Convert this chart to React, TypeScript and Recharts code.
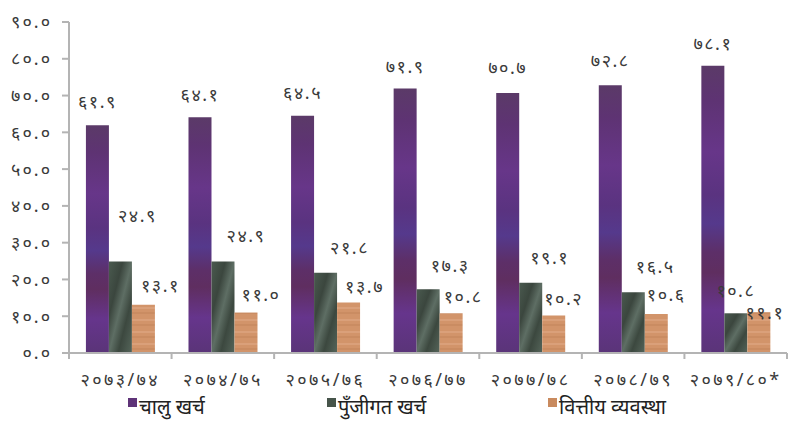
import React from 'react';
import { BarChart, Bar, XAxis, YAxis, Legend, LabelList } from 'recharts';

// ---------- data ----------
const categories = ['२०७३/७४', '२०७४/७५', '२०७५/७६', '२०७६/७७', '२०७७/७८', '२०७८/७९', '२०७९/८०*'];
const currentExp = [61.9, 64.1, 64.5, 71.9, 70.7, 72.8, 78.1];
const capitalExp = [24.9, 24.9, 21.8, 17.3, 19.1, 16.5, 10.8];
const financing = [13.1, 11.0, 13.7, 10.8, 10.2, 10.6, 11.1];
const yTicks = [0, 10, 20, 30, 40, 50, 60, 70, 80, 90];
const seriesNames = ['चालु खर्च', 'पुँजीगत खर्च', 'वित्तीय व्यवस्था'];

// label nudges (layout only), [dx, dy] relative to top-centre of bar
const nudgeCurrent = [[0, -24], [0, -23], [0, -24], [0, -23], [0, -26], [0, -25], [0, -23]];
const nudgeCapital = [[17, -46], [23, -26], [24, -26], [22, -24], [19, -26], [22, -26], [0, -23]];
const nudgeFinancing = [[17, -20], [15, -19], [16, -17], [12, -17], [10, -17], [10, -20], [6, 0]];

const data = categories.map((c, i) => ({
  name: c,
  current: currentExp[i],
  capital: capitalExp[i],
  financing: financing[i],
}));

const DEVA = ['०', '१', '२', '३', '४', '५', '६', '७', '८', '९'];
const toDeva = (s: string) => s.replace(/[0-9]/g, (d) => DEVA[Number(d)]);
const fmt = (v: number) => toDeva(v.toFixed(1));

const W = 788;
const H = 424;
const Y_W = 69;
const M_RIGHT = 1;
const BAND = (W - Y_W - M_RIGHT) / categories.length;
const FONT = "'Noto Sans', 'DejaVu Sans', sans-serif";
const TEXT = '#3a3a3a';
const AXIS = '#b4b4b4';

const makeLabel = (nudges: number[][]) => (props: any) => {
  const { x, y, width, value, index } = props;
  const [dx, dy] = nudges[index] || [0, -20];
  return (
    <text
      x={Number(x) + Number(width) / 2 + dx}
      y={Number(y) + dy}
      textAnchor="middle"
      dominantBaseline="central"
      fontSize={18}
      letterSpacing={1.5}
      fontFamily={FONT}
      fill={TEXT}
    >
      {fmt(Number(value))}
    </text>
  );
};

const XTick = (props: any) => {
  const { x, y, payload, index } = props;
  const left = x - BAND / 2;
  return (
    <g>
      <line x1={left} y1={y} x2={left} y2={y + 6} stroke={AXIS} strokeWidth={2} />
      {index === categories.length - 1 && (
        <line x1={x + BAND / 2} y1={y} x2={x + BAND / 2} y2={y + 6} stroke={AXIS} strokeWidth={2} />
      )}
      <text x={x} y={y + 33} textAnchor="middle" fontSize={18} letterSpacing={2.4} fontFamily={FONT} fill={TEXT}>
        {toDeva(payload.value)}
      </text>
    </g>
  );
};

const legendColors = ['#5e3378', '#46544a', '#c98a5e'];
const legendLeft = [128, 327, 548];

const LegendContent = () => (
  <div style={{ position: 'relative', width: W, height: 31 }}>
    {seriesNames.map((n, i) => (
      <div
        key={n}
        style={{
          position: 'absolute',
          left: legendLeft[i],
          top: 0,
          display: 'flex',
          alignItems: 'center',
          fontFamily: FONT,
          fontSize: 20,
          color: '#222',
          whiteSpace: 'nowrap',
        }}
      >
        <span style={{ display: 'inline-block', width: 9, height: 9, background: legendColors[i], marginRight: 2, marginTop: -8 }} />
        {n}
      </div>
    ))}
  </div>
);

export default function App() {
  return (
    <div style={{ position: 'absolute', left: 0, top: 0, width: W, height: H, background: '#fff' }}>
      <BarChart
        width={W}
        height={H}
        data={data}
        margin={{ top: 22, right: M_RIGHT, left: 0, bottom: 0 }}
        barCategoryGap="16.5%"
        barGap={0}
      >
        <defs>
          <linearGradient id="gPurple" x1="0" y1="0" x2="0" y2="1">
            <stop offset="0" stopColor="#5b3a68" />
            <stop offset="0.12" stopColor="#5e3373" />
            <stop offset="0.3" stopColor="#673689" />
            <stop offset="0.45" stopColor="#5a3380" />
            <stop offset="0.55" stopColor="#55398c" />
            <stop offset="0.65" stopColor="#5d2f68" />
            <stop offset="0.72" stopColor="#5f2e60" />
            <stop offset="0.85" stopColor="#66358c" />
            <stop offset="1" stopColor="#5a3478" />
          </linearGradient>
          <linearGradient id="gGreen" x1="0" y1="0" x2="1" y2="1">
            <stop offset="0" stopColor="#4a5a4f" />
            <stop offset="0.3" stopColor="#3b463e" />
            <stop offset="0.5" stopColor="#5e6e64" />
            <stop offset="0.7" stopColor="#3c483f" />
            <stop offset="1" stopColor="#55655a" />
          </linearGradient>
          <pattern id="pTan" width="24" height="12" patternUnits="userSpaceOnUse">
            <rect width="24" height="12" fill="#d2946a" />
            <rect y="0" width="24" height="2" fill="#ca8c62" />
            <rect y="7" width="24" height="2" fill="#daa07a" />
          </pattern>
        </defs>
        <XAxis
          dataKey="name"
          height={40}
          tickLine={false}
          tickSize={0}
          tickMargin={0}
          axisLine={{ stroke: AXIS, strokeWidth: 2 }}
          tick={<XTick />}
          interval={0}
        />
        <YAxis
          width={Y_W}
          domain={[0, 90]}
          ticks={yTicks}
          interval={0}
          tickSize={7}
          tickMargin={10}
          axisLine={{ stroke: AXIS, strokeWidth: 2 }}
          tickLine={{ stroke: AXIS, strokeWidth: 2 }}
          tick={{ fontSize: 18, fontFamily: FONT, fill: TEXT, letterSpacing: 2 }}
          tickFormatter={(v: number) => fmt(v)}
        />
        <Legend verticalAlign="bottom" height={31} content={<LegendContent />} />
        <Bar dataKey="current" name={seriesNames[0]} fill="url(#gPurple)" isAnimationActive={false}>
          <LabelList dataKey="current" content={makeLabel(nudgeCurrent)} />
        </Bar>
        <Bar dataKey="capital" name={seriesNames[1]} fill="url(#gGreen)" isAnimationActive={false}>
          <LabelList dataKey="capital" content={makeLabel(nudgeCapital)} />
        </Bar>
        <Bar dataKey="financing" name={seriesNames[2]} fill="url(#pTan)" isAnimationActive={false}>
          <LabelList dataKey="financing" content={makeLabel(nudgeFinancing)} />
        </Bar>
      </BarChart>
    </div>
  );
}
